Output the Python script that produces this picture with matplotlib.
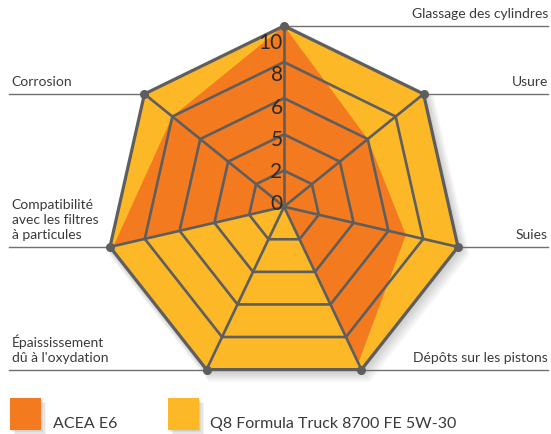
import numpy as np
import matplotlib
matplotlib.use("Agg")
import matplotlib.pyplot as plt
from matplotlib.patches import Polygon, Rectangle

# ---------------- data ----------------
categories = ["Glassage des cylindres", "Usure", "Suies", "Dépôts sur les pistons",
              "Épaississement\ndû à l'oxydation", "Compatibilité\navec les filtres\nà particules",
              "Corrosion"]
acea_e6 = [10, 6, 7, 9.6, 0, 9.8, 8]
q8_truck = [10, 10, 10, 10, 10, 10, 10]
ring_values = [0, 2, 4, 6, 8, 10]
ring_labels = ["0", "2", "5", "6", "8", "10"]
series_names = ["ACEA E6", "Q8 Formula Truck 8700 FE 5W-30"]

ORANGE = "#F47A20"
YELLOW = "#FDB827"
GRID = "#5E5E5E"
TEXT = "#3A3A3A"
FONT = ["Lato", "DejaVu Sans"]

plt.rcParams["font.family"] = FONT

W, H = 551, 435
fig = plt.figure(figsize=(W / 100, H / 100), dpi=100)
ax = fig.add_axes([0, 0, 1, 1])
cx, cy, rx, ry = 284.0, 207.7, 178.5, 180.8
ax.set_xlim((0 - cx) / (rx / 10), (W - cx) / (rx / 10))
ax.set_ylim((cy - H) / (ry / 10), (cy - 0) / (ry / 10))
ax.axis("off")

n = len(categories)
theta = np.arange(n) * 2 * np.pi / n
sx, cyv = np.sin(theta), np.cos(theta)


def pts(vals):
    v = np.asarray(vals, float)
    return np.column_stack([v * sx, v * cyv])


# shadow
for k in range(1, 7):
    p = pts(q8_truck) * (1 + 0.006 * k) + np.array([0.05 * k, -0.06 * k])
    ax.add_patch(Polygon(p, closed=True, facecolor="#000000", alpha=0.035,
                         edgecolor="none", zorder=1))

# series
ax.add_patch(Polygon(pts(q8_truck), closed=True, facecolor=YELLOW, edgecolor="none", zorder=2))
ax.add_patch(Polygon(pts(acea_e6), closed=True, facecolor=ORANGE, edgecolor="none", zorder=3))

# grid rings
for rv in ring_values[1:]:
    p = pts([rv] * n)
    p = np.vstack([p, p[:1]])
    ax.plot(p[:, 0], p[:, 1], color=GRID, lw=1.9 if rv < 10 else 2.3,
            solid_joinstyle="miter", zorder=4)
# spokes
outer = pts(q8_truck)
for (x, y) in outer:
    ax.plot([0, x], [0, y], color=GRID, lw=1.9, zorder=4)
ax.plot(outer[:, 0], outer[:, 1], "o", color=GRID, ms=5.5, zorder=5)

# tick labels along top spoke
for rv, lab in zip(ring_values, ring_labels):
    ax.text(-0.08, rv * 0.89 + 0.2, lab, ha="right", va="center",
            fontsize=15, color="#2A2A2A", zorder=6)

# category labels with leader lines
x_right = (548 - cx) / (rx / 10)
x_left = (9 - cx) / (rx / 10)
for i, (lab, (x, y)) in enumerate(zip(categories, outer)):
    if x >= -1e-6:
        ax.plot([x, x_right], [y, y], color="#707070", lw=1.0, zorder=1)
        ax.text(x_right, y + 0.5, lab, ha="right", va="baseline",
                fontsize=10, color=TEXT, linespacing=1.3)
    else:
        ax.plot([x_left, x], [y, y], color="#707070", lw=1.0, zorder=1)
        ax.text(x_left + 0.15, y + 0.5, lab, ha="left", va="baseline",
                fontsize=10, color=TEXT, linespacing=1.3)

# legend
legend_items = [(series_names[0], ORANGE, 10, 53), (series_names[1], YELLOW, 168, 210)]
for name, col, px, tx in legend_items:
    for k in range(1, 5):
        fig.patches.append(Rectangle(((px + 1.2 * k) / W, (4 - 1.2 * k) / H), 31 / W, 32 / H,
                                     transform=fig.transFigure, facecolor="#000000",
                                     alpha=0.05, edgecolor="none", zorder=1))
    fig.patches.append(Rectangle((px / W, 4 / H), 31 / W, 32 / H, transform=fig.transFigure,
                                 facecolor=col, edgecolor="none", zorder=2))
    fig.text(tx / W, 7 / H, name, ha="left", va="baseline", fontsize=11.5, color=TEXT)

fig.savefig("out.png", dpi=100)
